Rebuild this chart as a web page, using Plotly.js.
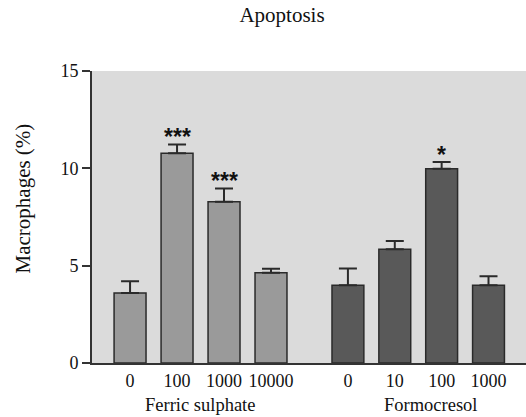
<!DOCTYPE html>
<html>
<head>
<meta charset="utf-8">
<script src="https://cdn.plot.ly/plotly-3.0.1.min.js"></script>
<style>html,body{margin:0;padding:0;background:#fff;}#chart{width:526px;height:417px;}</style>
</head>
<body>
<div id="chart"></div>
<script>
const ferricDoses = ["0", "100", "1000", "10000"];
const ferricValues = [3.6, 10.77, 8.28, 4.64];
const ferricErrors = [0.6, 0.46, 0.69, 0.2];
const ferricSig = ["", "***", "***", ""];

const formoDoses = ["0", "10", "100", "1000"];
const formoValues = [4.0, 5.84, 9.98, 4.0];
const formoErrors = [0.86, 0.43, 0.34, 0.45];
const formoSig = ["", "", "*", ""];

const yTicks = [0, 5, 10, 15];

const serif = "'Liberation Serif', 'Times New Roman', Times, serif";
const sans = "'Liberation Sans', Arial, sans-serif";

function barTrace(x, y, err, color, xa) {
  return {
    type: "bar", x: x, y: y, xaxis: xa, yaxis: "y",
    width: 0.68,
    marker: {color: color, line: {color: "#2a2a2a", width: 1.5}},
    error_y: {type: "data", array: err, arrayminus: err.map(() => 0), symmetric: false,
              color: "#2a2a2a", thickness: 2, width: 9},
    hoverinfo: "none", showlegend: false
  };
}

const traces = [
  barTrace(ferricDoses, ferricValues, ferricErrors, "#9a9a9a", "x"),
  barTrace(formoDoses, formoValues, formoErrors, "#595959", "x2")
];

const annotations = [];
function addSig(sig, vals, errs, xa) {
  sig.forEach((s, i) => { if (s) annotations.push({
    xref: xa, yref: "y", x: i, y: vals[i] + errs[i],
    text: "<b>" + s + "</b>", showarrow: false, yanchor: "bottom", yshift: -8,
    font: {family: sans, size: 23, color: "#111"}
  }); });
}
addSig(ferricSig, ferricValues, ferricErrors, "x");
addSig(formoSig, formoValues, formoErrors, "x2");

annotations.push({xref: "paper", yref: "paper", x: (200 - 92) / 434, y: -0.144,
  text: "Ferric sulphate", showarrow: false, xanchor: "center", yanchor: "middle",
  font: {family: serif, size: 18.5, color: "#111"}});
annotations.push({xref: "paper", yref: "paper", x: (431 - 92) / 434, y: -0.144,
  text: "Formocresol", showarrow: false, xanchor: "center", yanchor: "middle",
  font: {family: serif, size: 18.5, color: "#111"}});
annotations.push({xref: "paper", yref: "paper", x: (22 - 92) / 434, y: (363 - 198.5) / 292,
  text: "Macrophages (%)", showarrow: false, xanchor: "center", yanchor: "middle", textangle: -90,
  font: {family: serif, size: 21, color: "#111"}});

const split = (294.5 - 92) / 434;

const layout = {
  width: 526, height: 417,
  margin: {l: 92, r: 0, t: 71, b: 54},
  paper_bgcolor: "#ffffff",
  plot_bgcolor: "rgba(0,0,0,0)",
  shapes: [{type: "rect", xref: "paper", yref: "paper", x0: 0, x1: 1, y0: 0, y1: 1,
            fillcolor: "#dbdbdb", line: {width: 0}, layer: "below"}],
  title: {text: "Apoptosis", x: 282 / 526, xanchor: "center", y: 1 - 15 / 417, yanchor: "middle",
          font: {family: serif, size: 21, color: "#111"}},
  font: {family: serif, size: 18, color: "#111"},
  xaxis: {domain: [0, split], type: "category", range: [-0.81, 3.5],
          showline: true, linecolor: "#333", linewidth: 2, ticks: "", showgrid: false,
          zeroline: false, tickfont: {family: serif, size: 18, color: "#111"}, fixedrange: true},
  xaxis2: {domain: [split, 1], type: "category", range: [-1.14, 3.8], anchor: "y",
           showline: true, linecolor: "#333", linewidth: 2, ticks: "", showgrid: false,
           zeroline: false, tickfont: {family: serif, size: 18, color: "#111"}, fixedrange: true},
  yaxis: {range: [0, 15], tickvals: yTicks, ticktext: yTicks.map(String),
          showline: true, linecolor: "#333", linewidth: 2, ticks: "outside", ticklen: 8,
          tickwidth: 2, tickcolor: "#333", showgrid: false, zeroline: false,
          tickfont: {family: serif, size: 18, color: "#111"}},
  annotations: annotations,
  bargap: 0.3
};

Plotly.newPlot("chart", traces, layout, {displayModeBar: false, staticPlot: true});
</script>
</body>
</html>
